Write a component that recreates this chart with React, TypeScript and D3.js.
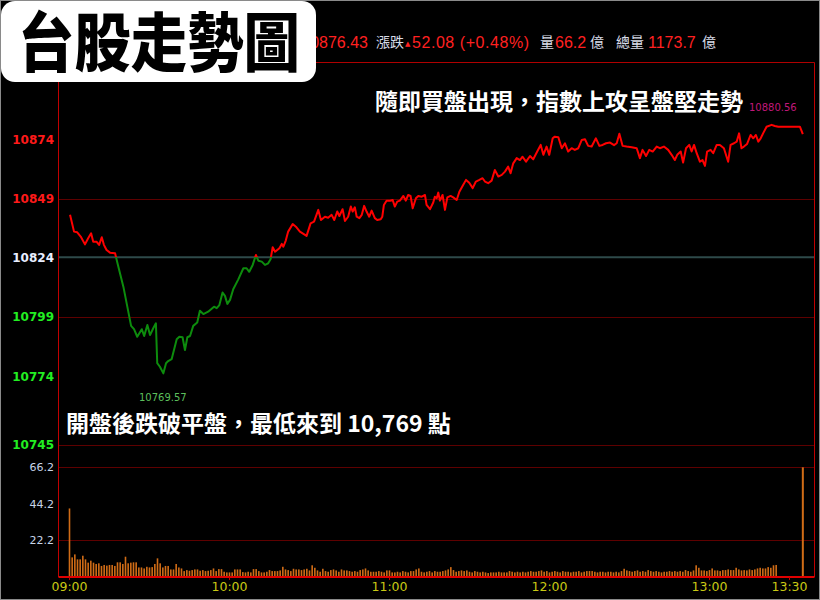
import React from "react";
import * as d3 from "d3";

// ---------- data ----------
const refPrice = 10824.35;
const closePrice = 10876.43;
const highLabel = "10880.56";
const lowLabel = "10769.57";

// minutes after 09:00 and index values of the trend line
const priceMinutes = [
  0.2, 1.7, 2.9, 4.2, 5.8, 7.0, 8.1, 8.9, 10.2, 11.1,
  12.1, 12.9, 13.9, 15.2, 17.1, 18.3, 20.2, 23.1, 24.2, 25.4,
  27.1, 28.0, 29.2, 30.2, 31.4, 32.4, 32.9, 33.9, 35.2, 36.2,
  37.0, 38.3, 40.2, 41.2, 42.4, 43.3, 44.2, 45.2, 46.4, 47.9,
  48.9, 50.2, 52.0, 54.2, 55.2, 56.2, 57.4, 58.3, 59.2, 60.2,
  61.4, 63.3, 65.2, 66.4, 67.4, 68.7, 69.9, 70.8, 72.1, 73.3,
  74.5, 75.4, 76.2, 77.1, 78.7, 79.6, 80.2, 81.1, 82.0, 83.7,
  84.9, 86.4, 88.9, 90.4, 91.7, 93.3, 94.3, 95.8, 97.0, 98.3,
  99.3, 100.4, 101.2, 102.4, 103.3, 104.5, 105.5, 106.2, 107.0, 107.7,
  108.7, 109.6, 110.5, 111.4, 112.4, 113.3, 114.5, 115.4, 116.7, 117.3,
  117.9, 118.9, 120.2, 121.2, 122.0, 122.9, 123.9, 125.2, 126.1, 127.0,
  127.9, 128.7, 129.9, 130.8, 132.1, 133.3, 133.9, 135.2, 136.4, 137.0,
  137.7, 138.3, 138.9, 139.9, 140.8, 141.7, 142.9, 143.9, 145.2, 146.2,
  147.4, 148.7, 149.9, 151.2, 152.4, 153.7, 154.9, 155.8, 157.0, 158.3,
  159.5, 160.8, 162.1, 163.3, 164.5, 165.4, 166.4, 167.7, 168.9, 169.9,
  171.2, 172.7, 173.9, 175.4, 176.7, 177.7, 178.9, 179.9, 181.2, 182.0,
  183.3, 184.6, 185.8, 187.0, 188.3, 189.5, 190.8, 192.1, 193.3, 194.5,
  195.8, 197.4, 198.7, 199.9, 201.2, 202.7, 204.2, 205.2, 206.2, 207.4,
  208.9, 210.8, 212.7, 213.9, 214.9, 216.2, 217.4, 218.7, 220.2, 221.4,
  222.9, 224.5, 225.8, 227.0, 227.9, 229.2, 230.1, 231.2, 232.4, 233.3,
  234.2, 235.2, 236.4, 237.4, 238.3, 239.1, 240.4, 241.4, 242.7, 243.9,
  245.4, 247.0, 247.9, 249.2, 250.2, 251.1, 252.0, 252.9, 254.1, 255.4,
  256.4, 257.4, 258.3, 259.2, 260.1, 261.4, 263.3, 264.5, 265.8, 273.9,
  275.0,
];
const priceValues = [
  10842.3, 10835.2, 10834.9, 10833.1, 10829.8, 10832.4, 10834.5, 10830.9, 10830.9, 10829.6,
  10832.8, 10829.6, 10827.4, 10826.3, 10826.0, 10820.4, 10811.9, 10795.3, 10793.9, 10790.7,
  10793.9, 10791.0, 10795.7, 10791.4, 10794.3, 10796.4, 10779.5, 10778.0, 10775.2, 10779.5,
  10780.4, 10781.2, 10789.6, 10790.7, 10790.5, 10785.1, 10790.5, 10791.0, 10795.3, 10796.7,
  10801.7, 10800.3, 10801.3, 10803.4, 10802.8, 10804.1, 10809.4, 10808.0, 10804.6, 10806.3,
  10810.8, 10815.0, 10819.7, 10819.7, 10818.2, 10821.1, 10825.3, 10822.9, 10822.5, 10821.1,
  10821.8, 10823.5, 10828.6, 10826.7, 10828.2, 10830.0, 10828.8, 10831.4, 10835.2, 10838.4,
  10837.3, 10835.2, 10833.4, 10838.7, 10839.4, 10844.4, 10840.1, 10841.5, 10841.1, 10842.3,
  10840.1, 10843.7, 10841.8, 10844.7, 10839.7, 10841.5, 10845.8, 10843.7, 10845.5, 10841.5,
  10840.9, 10842.3, 10846.1, 10843.7, 10841.5, 10844.1, 10840.9, 10840.1, 10840.4, 10841.5,
  10846.5, 10848.3, 10848.3, 10848.6, 10845.8, 10847.9, 10848.3, 10850.3, 10848.3, 10850.7,
  10850.3, 10845.1, 10849.3, 10850.3, 10850.0, 10850.7, 10846.5, 10844.7, 10847.5, 10850.0,
  10849.3, 10851.7, 10848.3, 10850.7, 10844.4, 10849.7, 10850.3, 10849.7, 10848.6, 10852.1,
  10854.5, 10857.1, 10855.9, 10853.6, 10856.4, 10857.1, 10857.8, 10856.4, 10855.7, 10856.8,
  10861.3, 10858.5, 10859.2, 10860.6, 10862.7, 10859.9, 10864.1, 10866.3, 10865.5, 10866.9,
  10864.8, 10867.2, 10865.8, 10869.1, 10871.9, 10867.7, 10871.2, 10867.7, 10874.7, 10875.4,
  10875.2, 10870.5, 10872.6, 10869.1, 10870.5, 10869.8, 10870.5, 10874.0, 10874.3, 10871.5,
  10871.2, 10874.7, 10871.5, 10871.9, 10872.6, 10872.9, 10871.8, 10872.6, 10876.6, 10871.5,
  10871.2, 10870.9, 10870.5, 10866.3, 10869.8, 10867.2, 10869.8, 10869.1, 10871.2, 10870.5,
  10871.2, 10869.8, 10867.7, 10865.5, 10867.7, 10869.1, 10864.4, 10870.5, 10871.9, 10869.1,
  10871.9, 10868.4, 10864.8, 10865.5, 10863.0, 10869.1, 10869.8, 10868.4, 10871.9, 10871.9,
  10870.5, 10864.8, 10871.9, 10872.6, 10873.3, 10876.8, 10870.5, 10871.2, 10872.3, 10876.1,
  10874.7, 10876.1, 10873.3, 10874.7, 10876.8, 10879.6, 10880.4, 10879.9, 10879.6, 10879.6,
  closePrice,
];

// per-minute volume (億) from 09:00
const volumes = [
  41.3, 11.7, 13.5, 10.5, 10.5, 12.7, 10.5, 8.5, 9.7, 8.5,
  7.7, 8.1, 6.5, 7.1, 6.7, 7.1, 7.1, 6.5, 8.7, 8.7,
  7.7, 12.1, 8.1, 8.5, 8.7, 8.7, 5.6, 5.6, 5.0, 6.0,
  5.6, 5.8, 7.7, 11.1, 8.1, 5.6, 6.5, 6.5, 4.4, 4.4,
  7.7, 5.6, 5.0, 3.4, 4.0, 3.6, 4.0, 4.4, 4.4, 3.6,
  4.0, 3.4, 3.6, 4.0, 5.0, 3.4, 4.6, 4.6, 3.0, 2.6,
  2.6, 2.6, 4.4, 4.4, 4.4, 2.8, 2.6, 3.0, 2.6, 4.6,
  4.6, 3.4, 2.6, 2.6, 3.0, 4.0, 3.4,
  3.4, 3.4, 3.8, 6.0, 4.4, 4.0, 3.4, 4.8, 4.4, 4.4,
  4.0, 4.4, 4.8, 3.8, 6.9, 5.4, 3.8, 3.0, 4.8, 3.4,
  3.0, 4.0, 4.4, 3.8, 3.0, 4.4, 3.8, 3.8, 3.4, 3.0,
  3.4, 3.0, 4.0, 4.4, 5.0, 3.8, 3.0, 3.0, 3.0, 3.4,
  3.0, 2.6, 3.8, 3.8, 2.6, 2.6, 3.0, 2.6, 3.4, 3.0,
  2.6, 3.4, 3.4, 4.4, 5.0, 3.0, 2.6, 3.0, 3.4, 2.6,
  3.4, 3.0, 3.0, 3.4, 3.8, 4.4, 5.8, 4.0, 3.0, 3.4,
  3.8, 3.4, 3.8, 3.0, 2.6, 3.4, 3.0, 2.6, 3.0, 2.6,
  2.2, 2.6, 2.6, 2.6, 3.0, 2.6, 2.6, 2.6, 3.4, 3.0,
  2.6, 3.0, 2.6, 3.0, 2.6, 3.0,
  3.4, 3.0, 3.0, 3.4, 3.8, 3.0, 3.4, 2.6, 3.0, 3.4,
  3.0, 2.6, 3.4, 3.0, 3.0, 2.6, 3.0, 3.0, 3.4, 2.6,
  3.0, 3.4, 3.4, 3.4, 3.0, 2.6, 3.0, 3.0, 2.6, 3.0,
  3.0, 2.6, 3.0, 2.6, 3.4, 4.8, 3.8, 3.4, 3.0, 3.4,
  3.8, 3.0, 3.4, 3.0, 4.0, 3.4, 3.0, 3.4, 3.0, 2.6,
  3.0, 3.0, 3.4, 3.0, 3.4, 3.0, 3.4, 3.0, 4.0, 3.4,
  3.0, 3.8, 6.9, 5.4, 3.8, 3.8, 3.4, 4.0, 5.0, 3.8,
  3.8, 3.4, 4.0, 4.0, 4.4, 4.0, 4.0, 5.4, 4.4, 3.8,
  4.0, 3.8, 4.4, 4.0, 4.4, 5.0, 5.4, 5.0, 5.0, 5.8,
  5.4, 6.9, 7.1,
];
const closeVolume = 66.2;
const closeMinute = 275;

const priceTicks = [10874, 10849, 10824, 10799, 10774, 10745];
const priceGrid = [10849, 10799, 10745];
const volTicks = [66.2, 44.2, 22.2];
const volGrid = [66.2, 22.2];
const timeTicks = ["09:00", "10:00", "11:00", "12:00", "13:00", "13:30"];

const titleText = "台股走勢圖";
const noteTop = "隨即買盤出現，指數上攻呈盤堅走勢";
const noteBottom = "開盤後跌破平盤，最低來到 10,769 點";

const NUM = "'DejaVu Sans', Verdana, sans-serif";
const CJK = "'Noto Sans CJK TC', 'Noto Sans CJK SC', sans-serif";
const ARIAL = "'Liberation Sans', Arial, sans-serif";

export default function App() {
  React.useEffect(() => {
    document.body.style.margin = "0";
  }, []);
  const W = 820;
  const H = 600;

  const x = d3.scaleLinear().domain([0, 270]).range([69.5, 789.5]);
  const y = d3.scaleLinear().domain([10745, 10907]).range([444.7, 62]);
  const yv = d3.scaleLinear().domain([0, closeVolume]).range([576.7, 467.3]);

  const pts: [number, number][] = priceMinutes.map((m, i) => [m, priceValues[i]]);
  const line = d3
    .line<[number, number]>()
    .x((d) => x(d[0]))
    .y((d) => y(d[1]));
  const path = line(pts) || "";
  const yRef = y(refPrice);

  const tMin = (s: string) => {
    const [h, m] = s.split(":").map(Number);
    return (h - 9) * 60 + m;
  };

  const left = 58.5;
  const right = 814.5;
  const top = 62.5;
  const base = 577;

  const tickColor = (v: number) =>
    v > refPrice + 1 ? "#ff1a1a" : v < refPrice - 1 ? "#22ee22" : "#e8eeff";

  return (
    <svg
      width={W}
      height={H}
      style={{ position: "absolute", left: 0, top: 0, display: "block" }}
    >
      <defs>
        <clipPath id="above">
          <rect x={0} y={0} width={W} height={yRef} />
        </clipPath>
        <clipPath id="below">
          <rect x={0} y={yRef} width={W} height={H - yRef} />
        </clipPath>
      </defs>
      <rect x={0} y={0} width={W} height={H} fill="#000" />
      <rect x={0.5} y={0.5} width={W - 1} height={H - 1} fill="none" stroke="#8a8a8a" />

      {/* header */}
      <g fontFamily={ARIAL} fontSize={16}>
        <text x={368} y={47.5} textAnchor="end" fill="#ff2020">{closePrice.toFixed(2)}</text>
        <text x={376} y={47} fill="#d8dce8" fontFamily={CJK} fontSize={14}>漲跌</text>
        <text x={405} y={46} fill="#ff2020" fontFamily={NUM} fontSize={7}>▲</text>
        <text x={412} y={47.5} fill="#ff2020" textLength={117} lengthAdjust="spacing">52.08 (+0.48%)</text>
        <text x={540} y={47} fill="#d8dce8" fontFamily={CJK} fontSize={14}>量</text>
        <text x={555} y={47.5} fill="#ff2020">66.2</text>
        <text x={590} y={47} fill="#d8dce8" fontFamily={CJK} fontSize={14}>億</text>
        <text x={616} y={47} fill="#d8dce8" fontFamily={CJK} fontSize={14}>總量</text>
        <text x={648} y={47.5} fill="#ff2020">1173.7</text>
        <text x={702} y={47} fill="#d8dce8" fontFamily={CJK} fontSize={14}>億</text>
      </g>

      {/* grid lines */}
      {priceGrid.map((v) => (
        <line key={"pg" + v} x1={left} x2={right} y1={Math.round(y(v)) + 0.5} y2={Math.round(y(v)) + 0.5} stroke="#5e0000" />
      ))}
      {volGrid.map((v) => (
        <line key={"vg" + v} x1={left} x2={right} y1={Math.round(yv(v)) + 0.5} y2={Math.round(yv(v)) + 0.5} stroke="#5e0000" />
      ))}
      <line x1={left} x2={right} y1={yRef} y2={yRef} stroke="#2e4a4a" strokeWidth={2} />

      {/* frame */}
      <line x1={300} x2={right} y1={top} y2={top} stroke="#b00000" />
      <line x1={left} x2={left} y1={top} y2={base} stroke="#c00000" />
      <line x1={right} x2={right} y1={top} y2={base} stroke="#c00000" />

      {/* price tick labels */}
      <g fontFamily={NUM} fontSize={12} fontWeight="bold" textAnchor="end">
        {priceTicks.map((v) => (
          <text key={"pt" + v} x={54} y={y(v)} dy="0.36em" fill={tickColor(v)}>
            {v}
          </text>
        ))}
      </g>
      {/* volume tick labels */}
      <g fontFamily={NUM} fontSize={11} textAnchor="end" fill="#c8d4e8">
        {volTicks.map((v) => (
          <text key={"vt" + v} x={54} y={yv(v)} dy="0.36em">
            {v.toFixed(1)}
          </text>
        ))}
      </g>

      {/* volume bars */}
      <g fill="#d06c16">
        {volumes.map((v, i) => (
          <rect key={"vb" + i} x={x(i) - 0.8} width={1.6} y={yv(v)} height={yv(0) - yv(v)} />
        ))}
        <rect x={x(closeMinute) - 1} width={2} y={yv(closeVolume)} height={yv(0) - yv(closeVolume)} />
      </g>
      <line x1={left} x2={right} y1={base} y2={base} stroke="#e00000" strokeWidth={2} />

      {/* time axis */}
      <g fontFamily={NUM} fontSize={12.5} textAnchor="middle" fill="#c8c814">
        {timeTicks.map((t) => (
          <g key={"tt" + t}>
            <line x1={x(tMin(t))} x2={x(tMin(t))} y1={base} y2={base + 3} stroke="#c00000" />
            <text x={x(tMin(t))} y={591}>{t}</text>
          </g>
        ))}
      </g>

      {/* price line */}
      <path d={path} fill="none" stroke="#ff0000" strokeWidth={2} strokeLinejoin="round" clipPath="url(#above)" />
      <path d={path} fill="none" stroke="#0d8c0d" strokeWidth={2} strokeLinejoin="round" clipPath="url(#below)" />

      {/* high / low labels */}
      <text x={749} y={110.5} fontFamily={NUM} fontSize={10} fill="#c0187a">{highLabel}</text>
      <text x={139} y={400.5} fontFamily={NUM} fontSize={10} fill="#5cbf5c">{lowLabel}</text>

      {/* annotations */}
      <text x={375} y={110} fontFamily={CJK} fontSize={23} fontWeight={700} fill="#ffffff">{noteTop}</text>
      <text x={66} y={432} fontFamily={CJK} fontSize={23} fontWeight={700} fill="#ffffff">{noteBottom}</text>

      {/* title box */}
      <rect x={1} y={1} width={315} height={81} rx={14} ry={14} fill="#ffffff" />
      <text
        x={18}
        y={66}
        fontFamily={CJK}
        fontSize={64}
        fontWeight={900}
        fill="#000"
        textLength={282}
        lengthAdjust="spacingAndGlyphs"
      >
        {titleText}
      </text>
    </svg>
  );
}
